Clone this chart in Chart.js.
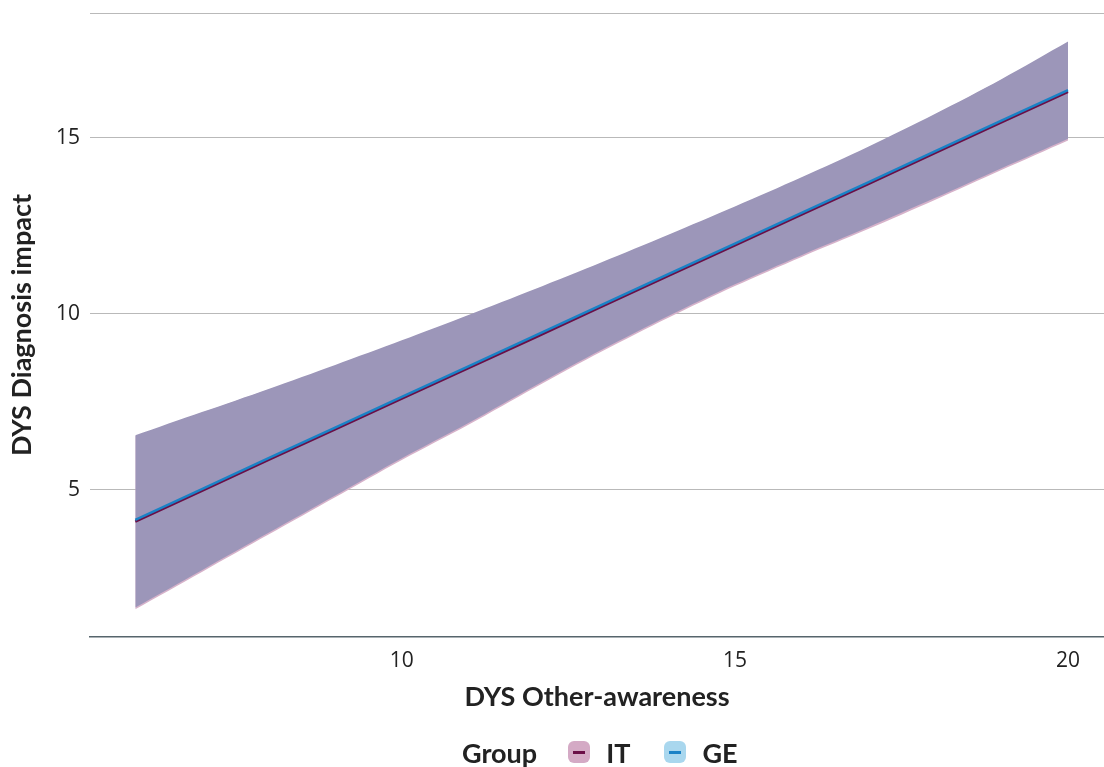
<!DOCTYPE html>
<html>
<head>
<meta charset="utf-8">
<script src="https://cdn.jsdelivr.net/npm/chart.js@4.4.1/dist/chart.umd.min.js"></script>
<style>
  body { margin: 0; background: #fff; }
  #wrap { position: relative; width: 1104px; height: 767px; }
  #legend {
    position: absolute; left: 462px; top: 735px; height: 34px;
    display: flex; align-items: center;
    font-family: "Lato", sans-serif; font-weight: bold; font-size: 27px; color: #222;
  }
  #legend .key {
    width: 22px; height: 22px; border-radius: 6px; position: relative; display: inline-block;
  }
  #legend .key i {
    position: absolute; left: 5px; right: 5px; top: 9.5px; height: 3px; display: block;
  }
</style>
</head>
<body>
<div id="wrap">
  <canvas id="myChart" width="1104" height="767"></canvas>
  <div id="legend">
    <span style="margin-right:31px">Group</span>
    <span class="key" style="background:#d4aac5"><i style="background:#6b0f47"></i></span>
    <span style="margin-left:16px;margin-right:34px">IT</span>
    <span class="key" style="background:#a9d7ee"><i style="background:#1a82c6"></i></span>
    <span style="margin-left:16px">GE</span>
  </div>
</div>
<script>
// x values (DYS Other-awareness)
let xVals = [6, 7, 8, 9, 10, 11, 12, 13, 14, 15, 16, 17, 18, 19, 20];

// fitted lines
let itFit = [4.10, 4.97, 5.85, 6.72, 7.59, 8.46, 9.33, 10.21, 11.08, 11.95, 12.82, 13.69, 14.57, 15.44, 16.31];
let geFit = [4.15, 5.02, 5.90, 6.77, 7.64, 8.51, 9.38, 10.26, 11.13, 12.00, 12.87, 13.74, 14.62, 15.49, 16.36];

// confidence bands
let geUpper = [6.55, 7.21, 7.87, 8.55, 9.25, 9.97, 10.71, 11.47, 12.25, 13.05, 13.88, 14.75, 15.68, 16.67, 17.74];
let geLower = [1.66, 2.72, 3.78, 4.84, 5.90, 6.90, 7.96, 8.98, 9.94, 10.84, 11.67, 12.46, 13.29, 14.14, 14.98];
let itUpper = [6.53, 7.19, 7.85, 8.53, 9.23, 9.95, 10.69, 11.45, 12.23, 13.03, 13.86, 14.73, 15.66, 16.65, 17.72];
let itLower = [1.61, 2.67, 3.73, 4.79, 5.85, 6.85, 7.91, 8.93, 9.89, 10.79, 11.62, 12.41, 13.24, 14.09, 14.93];

let xTicks = [10, 15, 20];
let yTicks = [5, 10, 15];
let yMin = 0.82, yMax = 18.55;
let xMin = 5.32, xMax = 20.54;

function pts(ys) {
    return xVals.map((x, i) => ({ x: x, y: ys[i] }));
}

let band = { pointRadius: 0, borderWidth: 0, borderColor: 'rgba(0,0,0,0)', tension: 0.3 };

let ctx = document.getElementById('myChart').getContext('2d');

let chart = new Chart(ctx, {
    type: 'line',
    data: {
        datasets: [
            Object.assign({ label: 'IT low', data: pts(itLower), fill: false, order: 6 }, band),
            Object.assign({ label: 'IT high', data: pts(itUpper), fill: '-1', backgroundColor: '#d6b2ca', order: 5 }, band),
            Object.assign({ label: 'GE low', data: pts(geLower), fill: false, order: 4 }, band),
            Object.assign({ label: 'GE high', data: pts(geUpper), fill: '-1', backgroundColor: '#9c96b9', order: 3 }, band),
            { label: 'IT', data: pts(itFit), borderColor: '#6b0f47', borderWidth: 2.5, pointRadius: 0, fill: false, order: 2 },
            { label: 'GE', data: pts(geFit), borderColor: '#1a82c6', borderWidth: 2.5, pointRadius: 0, fill: false, order: 1 }
        ]
    },
    options: {
        responsive: false,
        animation: false,
        layout: { padding: { top: 13, left: 0, right: 0, bottom: 50 } },
        plugins: {
            legend: { display: false },
            tooltip: { enabled: false }
        },
        scales: {
            x: {
                type: 'linear',
                min: xMin,
                max: xMax,
                afterBuildTicks: s => { s.ticks = xTicks.map(v => ({ value: v })); },
                afterFit: s => { s.height = 80; s.paddingLeft = 0; s.paddingRight = 0; },
                grid: { display: false, drawTicks: false },
                border: { display: true, color: '#56656c', width: 1.5 },
                ticks: {
                    padding: 11,
                    color: '#222',
                    font: { family: 'Open Sans', size: 21 }
                },
                title: {
                    display: true,
                    text: 'DYS Other-awareness',
                    color: '#222',
                    font: { family: 'Lato', size: 27, weight: 'bold' },
                    padding: { top: 4, bottom: 4 }
                }
            },
            y: {
                min: yMin,
                max: yMax,
                afterBuildTicks: s => { s.ticks = yTicks.concat([yMax]).map(v => ({ value: v })); },
                afterFit: s => { s.width = 90; s.paddingTop = 0; s.paddingBottom = 0; },
                grid: { color: '#b9b9b9', lineWidth: 1, drawTicks: false },
                border: { display: false },
                ticks: {
                    padding: 10,
                    color: '#222',
                    font: { family: 'Open Sans', size: 21 },
                    callback: v => (yTicks.includes(v) ? v : '')
                },
                title: {
                    display: true,
                    text: 'DYS Diagnosis impact',
                    color: '#222',
                    font: { family: 'Lato', size: 27, weight: 'bold' },
                    padding: { top: 6, bottom: 6 }
                }
            }
        }
    }
});
</script>
</body>
</html>
